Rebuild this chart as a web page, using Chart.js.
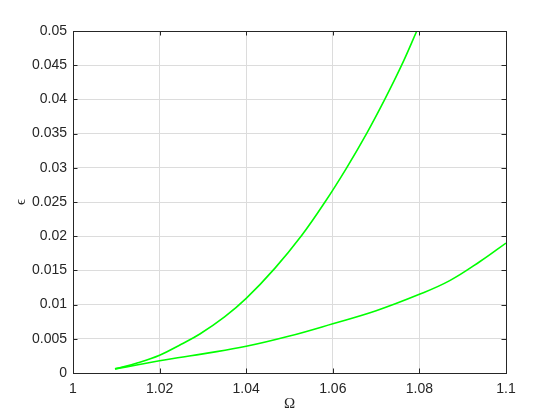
<!DOCTYPE html>
<html lang="en">
    <head>
        <meta charset="UTF-8" />
        <title>epsilon vs Omega</title>
        <script src="https://cdn.jsdelivr.net/npm/chart.js"></script>
        <style>
            html, body { margin: 0; padding: 0; background: #fff; }
            #wrap { width: 560px; height: 420px; }
        </style>
    </head>
    <body>
        <div id="wrap"><canvas id="epsChart" width="560" height="420"></canvas></div>
        <script>
            // values
            const omegaUpper = [1.0097, 1.015, 1.02, 1.025, 1.0293, 1.035, 1.04, 1.0466, 1.0528, 1.0582, 1.0632, 1.0678, 1.072, 1.0759, 1.0794];
            const epsUpper = [0.0006, 0.0015, 0.0026, 0.0042, 0.0057, 0.0082, 0.0109, 0.0153, 0.0201, 0.025, 0.03, 0.035, 0.04, 0.045, 0.05];
            const omegaLower = [1.0097, 1.015, 1.02, 1.025, 1.03, 1.04, 1.05, 1.06, 1.07, 1.08, 1.087, 1.094, 1.1];
            const epsLower = [0.0006, 0.0012, 0.0018, 0.0023, 0.0028, 0.0039, 0.0054, 0.0072, 0.0091, 0.0115, 0.0135, 0.0163, 0.019];
            const xTicks = [1, 1.02, 1.04, 1.06, 1.08, 1.1];
            const xTickLabels = ["1", "1.02", "1.04", "1.06", "1.08", "1.1"];
            const yTicks = [0, 0.005, 0.01, 0.015, 0.02, 0.025, 0.03, 0.035, 0.04, 0.045, 0.05];
            const yTickLabels = ["0", "0.005", "0.01", "0.015", "0.02", "0.025", "0.03", "0.035", "0.04", "0.045", "0.05"];

            const toPoints = (xs, ys) => xs.map((x, i) => ({ x: x, y: ys[i] }));

            // box round the plot and ticks pointing inwards, like the original
            const boxPlugin = {
                id: "box",
                afterDraw(chart) {
                    const ctx = chart.ctx;
                    const a = chart.chartArea;
                    const xs = chart.scales.x;
                    const ys = chart.scales.y;
                    const len = 4.5;
                    ctx.save();
                    ctx.strokeStyle = "#262626";
                    ctx.lineWidth = 1;
                    ctx.beginPath();
                    xTicks.forEach((v) => {
                        const px = Math.round(xs.getPixelForValue(v)) + 0.5;
                        ctx.moveTo(px, a.bottom);
                        ctx.lineTo(px, a.bottom - len);
                        ctx.moveTo(px, a.top);
                        ctx.lineTo(px, a.top + len);
                    });
                    yTicks.forEach((v) => {
                        const py = Math.round(ys.getPixelForValue(v)) + 0.5;
                        ctx.moveTo(a.left, py);
                        ctx.lineTo(a.left + len, py);
                        ctx.moveTo(a.right, py);
                        ctx.lineTo(a.right - len, py);
                    });
                    ctx.stroke();
                    ctx.strokeRect(Math.round(a.left) + 0.5, Math.round(a.top) + 0.5, Math.round(a.right - a.left), Math.round(a.bottom - a.top));
                    ctx.restore();
                },
            };

            const tickFont = { family: "'Liberation Sans', Arial, sans-serif", size: 14 };

            new Chart(document.getElementById("epsChart").getContext("2d"), {
                type: "scatter",
                data: {
                    datasets: [
                        {
                            data: toPoints(omegaUpper, epsUpper),
                            showLine: true,
                            borderColor: "#00ff00",
                            borderWidth: 1.6,
                            pointRadius: 0,
                            tension: 0.4,
                        },
                        {
                            data: toPoints(omegaLower, epsLower),
                            showLine: true,
                            borderColor: "#00ff00",
                            borderWidth: 1.6,
                            pointRadius: 0,
                            tension: 0.4,
                        },
                    ],
                },
                options: {
                    responsive: false,
                    animation: false,
                    clip: true,
                    layout: { padding: { top: 31, right: 54, left: 0, bottom: 0 } },
                    plugins: { legend: { display: false }, tooltip: { enabled: false } },
                    scales: {
                        x: {
                            type: "linear",
                            min: 1,
                            max: 1.1,
                            afterFit: (s) => { s.height = 47; },
                            afterBuildTicks: (s) => { s.ticks = xTicks.map((v) => ({ value: v })); },
                            ticks: {
                                color: "#262626",
                                font: tickFont,
                                padding: 8,
                                maxRotation: 0,
                                callback: (v, i) => xTickLabels[i],
                            },
                            grid: { color: "#dcdcdc", drawTicks: false },
                            border: { display: false },
                            title: {
                                display: true,
                                text: "Ω",
                                color: "#262626",
                                font: { family: "'Liberation Serif', 'DejaVu Serif', serif", size: 15 },
                                padding: { top: 0, bottom: 7 },
                            },
                        },
                        y: {
                            type: "linear",
                            min: 0,
                            max: 0.05,
                            afterFit: (s) => { s.width = 73; },
                            afterBuildTicks: (s) => { s.ticks = yTicks.map((v) => ({ value: v })); },
                            ticks: {
                                color: "#262626",
                                font: tickFont,
                                padding: 6,
                                callback: (v, i) => yTickLabels[i],
                            },
                            grid: { color: "#dcdcdc", drawTicks: false },
                            border: { display: false },
                            title: {
                                display: true,
                                text: "ϵ",
                                color: "#262626",
                                font: { family: "'Liberation Serif', 'DejaVu Serif', serif", size: 15 },
                                padding: { top: 12, bottom: 0 },
                            },
                        },
                    },
                },
                plugins: [boxPlugin],
            });
        </script>
    </body>
</html>
